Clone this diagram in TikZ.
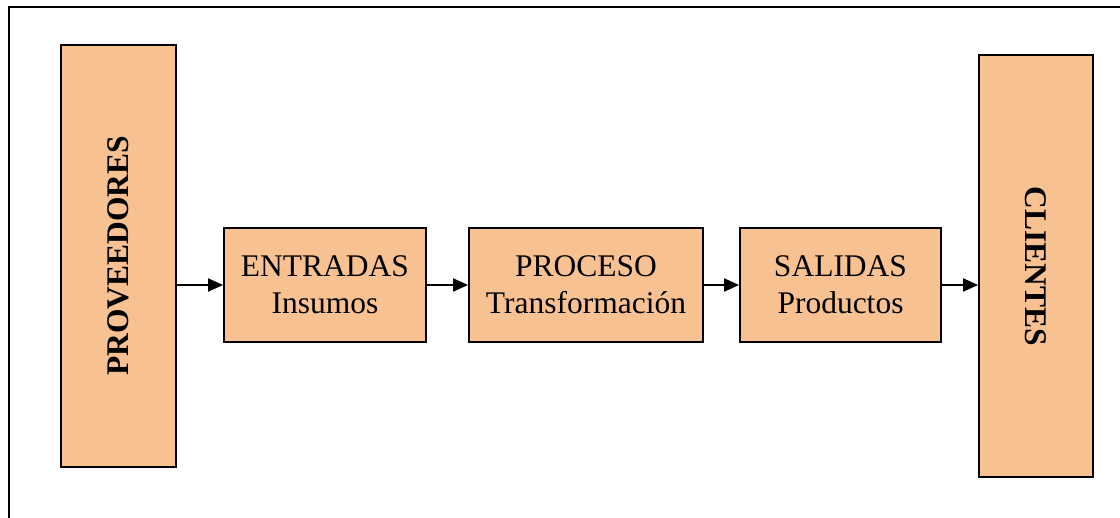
\documentclass[tikz,border=0pt]{standalone}
\usepackage{fontspec}
\setmainfont{Liberation Serif}
\usetikzlibrary{arrows.meta}
\definecolor{peach}{RGB}{248,193,145}
\begin{document}
\begin{tikzpicture}[x=1pt,y=-1pt,
  box/.style={draw=black,fill=peach,line width=1.8pt,inner sep=0pt,align=center,
    font=\fontsize{31.5}{37}\selectfont},
  flow/.style={line width=1.8pt,-{Triangle[length=15pt,width=13pt]}}]
\useasboundingbox (0,0) rectangle (1120,518);
% outer frame (open towards right and bottom)
\draw[line width=2pt] (8.5,540) -- (8.5,7.5) -- (1140,7.5);
% side blocks
\node[box,minimum width=115pt,minimum height=422pt] (prov) at (118.5,256) {};
\node[font=\fontsize{31.5}{37}\selectfont\bfseries,rotate=90] at (prov.center) {PROVEEDORES};
\node[box,minimum width=114pt,minimum height=422pt] (cli) at (1036,266) {};
\node[font=\fontsize{31.5}{37}\selectfont\bfseries,rotate=-90] at (cli.center) {CLIENTES};
% process stages
\node[box,minimum width=202pt,minimum height=114pt] (ent) at (325,285) {ENTRADAS\\Insumos};
\node[box,minimum width=234pt,minimum height=114pt] (pro) at (586,285) {PROCESO\\Transformación};
\node[box,minimum width=201pt,minimum height=114pt] (sal) at (840.5,285) {SALIDAS\\Productos};
% flow arrows
\draw[flow] (prov.east |- ent.west) -- (ent.west);
\draw[flow] (ent.east) -- (pro.west);
\draw[flow] (pro.east) -- (sal.west);
\draw[flow] (sal.east) -- (cli.west |- sal.east);
\end{tikzpicture}
\end{document}
